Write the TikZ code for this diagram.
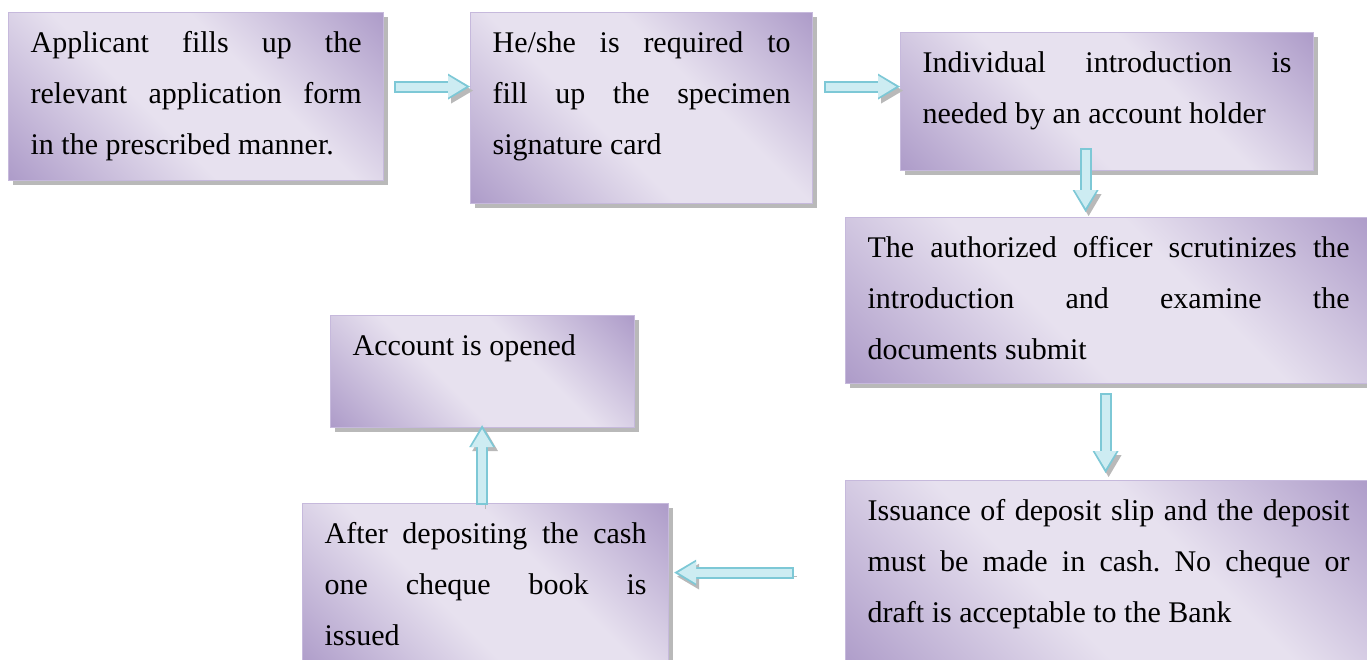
\documentclass[tikz,border=0pt]{standalone}
\usepackage{fontspec}
\setmainfont{Liberation Serif}
\usetikzlibrary{arrows.meta,shadows,calc}

% cores
\definecolor{boxdark}{RGB}{172,154,200}
\definecolor{boxlight}{RGB}{231,225,239}
\definecolor{boxedge}{RGB}{198,185,220}
\definecolor{arrowedge}{RGB}{125,200,214}
\definecolor{arrowfill}{RGB}{205,236,242}
\pgfdeclareverticalshading{boxshade}{100bp}{color(0bp)=(boxdark); color(14bp)=(boxdark); color(42bp)=(boxlight); color(60bp)=(boxlight); color(86bp)=(boxdark); color(100bp)=(boxdark)}

\tikzset{
  stepbox/.style={draw=boxedge, line width=1.2pt, shading=boxshade, shading angle=-45,
    anchor=north west, inner xsep=22pt, inner ysep=0pt, text height=40pt, align=justify,
    font={\fontsize{30}{51}\selectfont\frenchspacing\tolerance=10000 \hbadness=10000 },
    drop shadow={shadow xshift=4pt, shadow yshift=-4pt, fill=gray!55, opacity=1}},
  flowarrow/.style={line width=12pt, draw=arrowedge,
    -{Triangle[length=22pt,width=26pt,line width=0pt]},
    preaction={draw=gray!55, transform canvas={xshift=3pt,yshift=-4pt}},
    postaction={draw=arrowfill, line width=8pt, shorten <=2pt, shorten >=4pt,
      -{Triangle[length=18pt,width=22pt,line width=0pt]}}}
}

\begin{document}
\begin{tikzpicture}[x=1pt, y=1pt]
  \useasboundingbox (0,0) rectangle (1367,-659);

  % Caixas
  \node[stepbox, text width=331pt, text depth=128pt] (apply) at (8,-12)
    {Applicant fills up the\linebreak relevant application form\linebreak in the prescribed manner.};
  \node[stepbox, text width=298pt, text depth=151pt] (sign) at (470,-12)
    {He/she is required to\linebreak fill up the specimen\linebreak signature card};
  \node[stepbox, text width=369pt, text depth=98pt] (intro) at (900,-32)
    {Individual introduction is\linebreak needed by an account holder};
  \node[stepbox, text width=482pt, text depth=126pt] (officer) at (845,-217)
    {The authorized officer scrutinizes the\linebreak introduction and examine the\linebreak documents submit};
  \node[stepbox, text width=482pt, text depth=150pt] (slip) at (845,-480)
    {Issuance of deposit slip and the deposit\linebreak must be made in cash. No cheque or\linebreak draft is acceptable to the Bank};
  \node[stepbox, text width=322pt, text depth=125pt] (issue) at (302,-503)
    {After depositing the cash\linebreak one cheque book is\linebreak issued};
  \node[stepbox, text width=260pt, text depth=72pt] (opened) at (330,-315)
    {Account is opened};

  % Setas
  \draw[flowarrow] ([shift={(10pt,10pt)}]apply.east) coordinate (a1) -- (a1 -| sign.west);
  \draw[flowarrow] ([shift={(11pt,21.5pt)}]sign.east) coordinate (a2) -- (a2 -| intro.west);
  \draw[flowarrow] ([shift={(-21.5pt,23pt)}]intro.south) coordinate (a3) -- ($(a3 |- officer.north)+(0,5)$);
  \draw[flowarrow] ([shift={(-3pt,-9pt)}]officer.south) coordinate (a4) -- ($(a4 |- slip.north)+(0,7)$);
  \draw[flowarrow] ([shift={(-51pt,3pt)}]slip.west) coordinate (a5) -- ($(a5 -| issue.east)+(5,0)$);
  \draw[flowarrow] ([shift={(-3.5pt,-2pt)}]issue.north) coordinate (a6) -- ($(a6 |- opened.south)+(0,3)$);

\end{tikzpicture}
\end{document}
